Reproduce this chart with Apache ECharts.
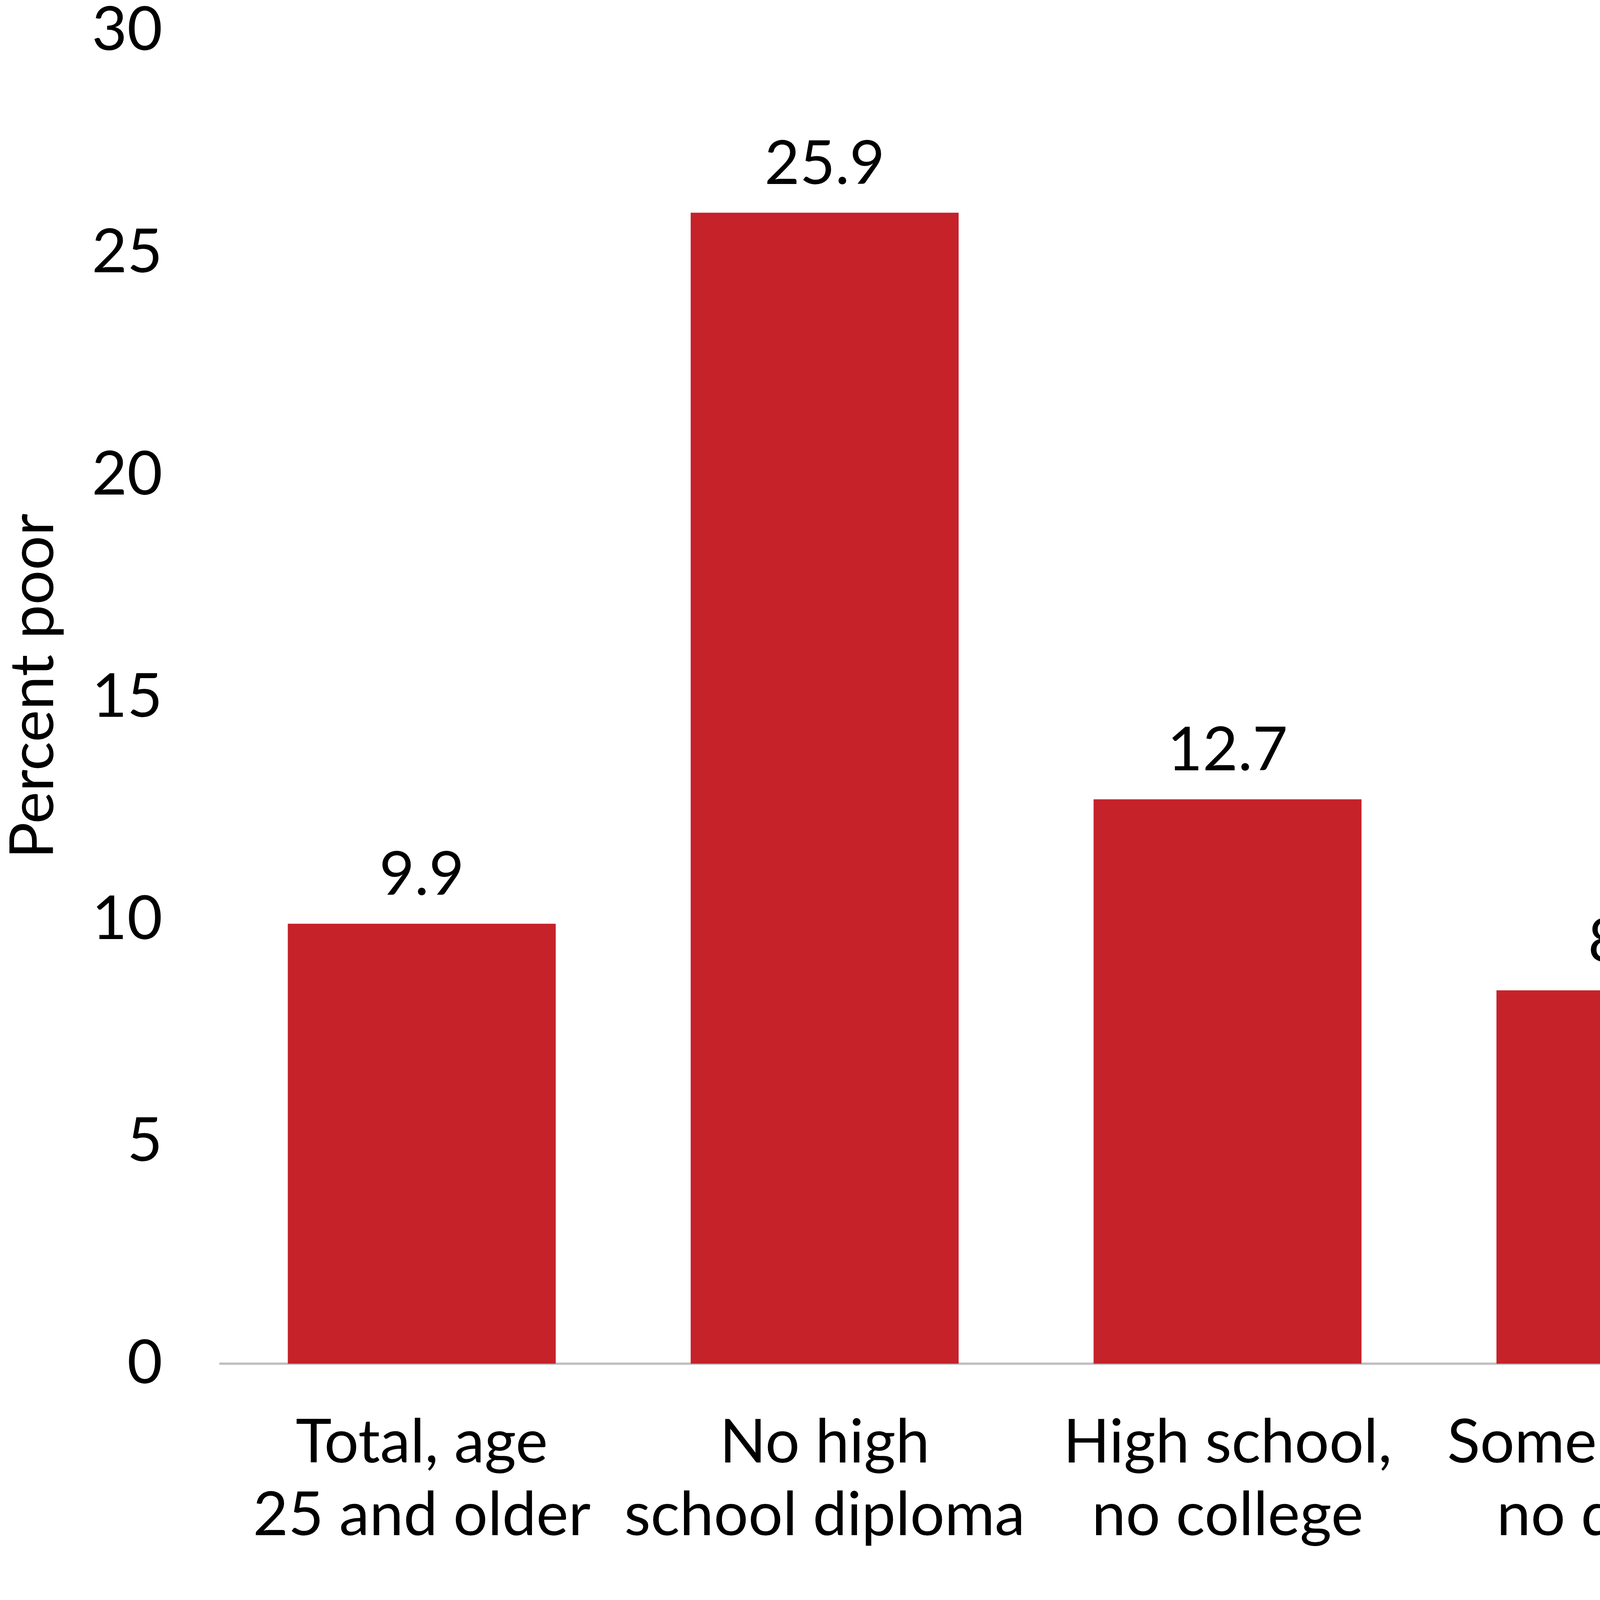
<!DOCTYPE html>
<html>
<head>
<meta charset="utf-8">
<script src="https://cdn.jsdelivr.net/npm/echarts@6/dist/echarts.min.js"></script>
<style>
    html, body { margin: 0; padding: 0; background: #fff; }
    #chart { width: 5721px; height: 4164px; }
</style>
</head>
<body>
<div id="chart"></div>
<script>
// categories and values
var categories = [
    'Total, age\n25 and older',
    'No high\nschool diploma',
    'High school,\nno college',
    'Some college,\nno degree',
    "Bachelor's\ndegree or\nhigher"
];
var percentPoor = [9.9, 25.9, 12.7, 8.4, 4.4];
var yTicks = [0, 5, 10, 15, 20, 25, 30];

var myChart = echarts.init(document.getElementById('chart'));

var option = {
    backgroundColor: '#ffffff',
    animation: false,
    textStyle: {
        fontFamily: 'Lato'
    },
    grid: {
        left: 558,
        right: 0,
        top: 78,
        bottom: 673
    },
    xAxis: {
        type: 'category',
        data: categories,
        axisLine: {
            show: true,
            lineStyle: { color: '#c0c0c0', width: 6 }
        },
        axisTick: { show: false },
        axisLabel: {
            interval: 0,
            margin: 110,
            color: '#000',
            fontFamily: 'Lato',
            fontSize: 156,
            lineHeight: 186
        }
    },
    yAxis: {
        type: 'value',
        min: yTicks[0],
        max: yTicks[yTicks.length - 1],
        interval: 5,
        name: 'Percent poor',
        nameLocation: 'middle',
        nameGap: 400,
        nameTextStyle: {
            color: '#000',
            fontFamily: 'Lato',
            fontSize: 156,
            padding: [0, 0, 0, 56]
        },
        axisLine: { show: false },
        axisTick: { show: false },
        splitLine: { show: false },
        axisLabel: {
            margin: 148,
            color: '#000',
            fontFamily: 'Lato',
            fontSize: 156
        }
    },
    series: [
        {
            name: 'Percent poor',
            type: 'bar',
            data: percentPoor,
            barWidth: '66.5%',
            itemStyle: { color: '#c5222a' },
            label: {
                show: true,
                position: 'top',
                distance: 46,
                color: '#000',
                fontFamily: 'Lato',
                fontSize: 156,
                lineHeight: 156,
                formatter: function (p) {
                    return p.value.toFixed(1);
                }
            }
        }
    ]
};

myChart.setOption(option);
</script>
</body>
</html>
